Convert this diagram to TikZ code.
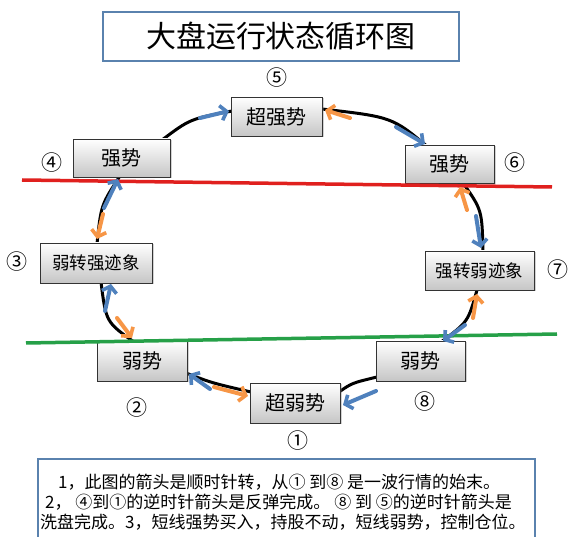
\documentclass[tikz,border=0pt]{standalone}
\usepackage{fontspec}
\setmainfont{Noto Sans CJK SC}
\usetikzlibrary{arrows.meta,shadows}
\definecolor{obl}{HTML}{4F81BD}
\definecolor{oor}{HTML}{F79646}
\definecolor{rline}{HTML}{E0201E}
\definecolor{gline}{HTML}{26A048}
\definecolor{tbord}{HTML}{5A82AE}
\tikzset{
  statebox/.style={draw=black!80, line width=0.6pt, top color=white, bottom color=gray!45,
    drop shadow={opacity=0.35, shadow xshift=1.5pt, shadow yshift=-1.5pt},
    inner sep=0pt, font=\fontsize{20}{22}\selectfont},
  numlbl/.style={inner sep=0pt, font=\fontsize{21}{23}\selectfont},
  cyc/.style={line width=3pt, black},
  barrow/.style={line width=4pt, obl, line cap=round, -{Straight Barb[length=6pt,width=15pt,line width=3.6pt]}},
  oarrow/.style={line width=4pt, oor, line cap=round, -{Straight Barb[length=6pt,width=15pt,line width=3.6pt]}},
  noteline/.style={anchor=west, inner sep=0pt, font=\fontsize{17}{19}\selectfont}
}
\begin{document}
\begin{tikzpicture}[x=1pt,y=-1pt]
\useasboundingbox (0,0) rectangle (579,537);
\fill[white] (0,0) rectangle (579,537);
% title
\node[draw=tbord, line width=1.6pt, minimum width=356pt, minimum height=49pt, inner sep=0pt,
  font=\fontsize{30}{32}\selectfont] (title) at (281,36.5) {大盘运行状态循环图};
% lines
\coordinate (r1) at (22,180); \coordinate (r2) at (552,187);
\coordinate (g1) at (26,343); \coordinate (g2) at (557,334);
% cycle arcs (under boxes)
\coordinate (a1s) at (162,140); \coordinate (a1e) at (232,111);
\coordinate (a2s) at (322,109); \coordinate (a2e) at (428,147);
\coordinate (a3s) at (463,183); \coordinate (a3e) at (483,252);
\coordinate (a4s) at (477,290); \coordinate (a4e) at (441,342);
\coordinate (a5s) at (377,377); \coordinate (a5e) at (339,392);
\coordinate (a6s) at (251,392); \coordinate (a6e) at (186,373);
\coordinate (a7s) at (134,342); \coordinate (a7e) at (101,282);
\coordinate (a8s) at (97,244); \coordinate (a8e) at (120,176);
\draw[cyc] (a1s) .. controls (190,119) .. (a1e);
\draw[cyc] (a2s) .. controls (392,117) .. (a2e);
\draw[cyc] (a3s) .. controls (482,210) .. (a3e);
\draw[cyc] (a4s) .. controls (468,322) .. (a4e);
\draw[cyc] (a5s) .. controls (352,383) .. (a5e);
\draw[cyc] (a6s) .. controls (212,383) .. (a6e);
\draw[cyc] (a7s) .. controls (106,322) .. (a7e);
\draw[cyc] (a8s) .. controls (101,205) .. (a8e);
% boxes
\node[statebox, minimum width=91pt, minimum height=39pt] (s5) at (276.5,116.5) {超强势};
\node[statebox, minimum width=97pt, minimum height=38pt] (s4) at (121.5,158) {强势};
\node[statebox, minimum width=89pt, minimum height=38pt] (s6) at (449.5,164) {强势};
\node[statebox, minimum width=112pt, minimum height=40pt, font=\fontsize{17.5}{19}\selectfont] (s3) at (96,263) {弱转强迹象};
\node[statebox, minimum width=109pt, minimum height=39pt, font=\fontsize{17.5}{19}\selectfont] (s7) at (479.5,270.5) {强转弱迹象};
\node[statebox, minimum width=90pt, minimum height=40pt] (s2) at (142,361) {弱势};
\node[statebox, minimum width=89pt, minimum height=40pt] (s8) at (420.5,361) {弱势};
\node[statebox, minimum width=90pt, minimum height=40pt] (s1) at (295,403) {超弱势};
% red and green lines
\draw[rline, line width=3.5pt] (r1) -- (r2);
\draw[gline, line width=3.5pt] (g1) -- (g2);
% number labels
\node[numlbl] (n5) at (277,78) {⑤};
\node[numlbl] (n4) at (52,163) {④};
\node[numlbl] (n6) at (515,163) {⑥};
\node[numlbl] (n3) at (17,262) {③};
\node[numlbl] (n7) at (558,270) {⑦};
\node[numlbl] (n2) at (137,408) {②};
\node[numlbl] (n8) at (425,402) {⑧};
\node[numlbl] (n1) at (298,441) {①};
% blue arrows (clockwise)
\coordinate (b1t) at (200,118); \coordinate (b1h) at (229,111);
\coordinate (b2t) at (396,127); \coordinate (b2h) at (425,144);
\coordinate (b3t) at (476,216); \coordinate (b3h) at (481,248);
\coordinate (b4t) at (465,325); \coordinate (b4h) at (443,341);
\coordinate (b5t) at (376,391); \coordinate (b5h) at (343,405);
\coordinate (b6t) at (210,389); \coordinate (b6h) at (189,374);
\coordinate (b7t) at (105,311); \coordinate (b7h) at (111,284);
\coordinate (b8t) at (104,208); \coordinate (b8h) at (118,179);
\foreach \i in {1,...,8} \draw[barrow] (b\i t) -- (b\i h);
% orange arrows (counter-clockwise)
\coordinate (o1t) at (350,118); \coordinate (o1h) at (325,110);
\coordinate (o2t) at (467,210); \coordinate (o2h) at (460,187);
\coordinate (o3t) at (473,318); \coordinate (o3h) at (477,294);
\coordinate (o4t) at (214,387); \coordinate (o4h) at (248,396);
\coordinate (o5t) at (117,318); \coordinate (o5h) at (132,338);
\coordinate (o6t) at (103,214); \coordinate (o6h) at (97,239);
\foreach \i in {1,...,6} \draw[oarrow] (o\i t) -- (o\i h);
% note box
\draw[tbord, line width=1.6pt] (38,459) rectangle (535,560);
\node[noteline] (t1) at (58,482) {1，此图的箭头是顺时针转，从① 到⑧ 是一波行情的始末。};
\node[noteline] (t2) at (45,502) {2， ④到①的逆时针箭头是反弹完成。 ⑧ 到 ⑤的逆时针箭头是};
\node[noteline] (t3) at (40,522) {洗盘完成。3，短线强势买入，持股不动，短线弱势，控制仓位。};
\end{tikzpicture}
\end{document}
